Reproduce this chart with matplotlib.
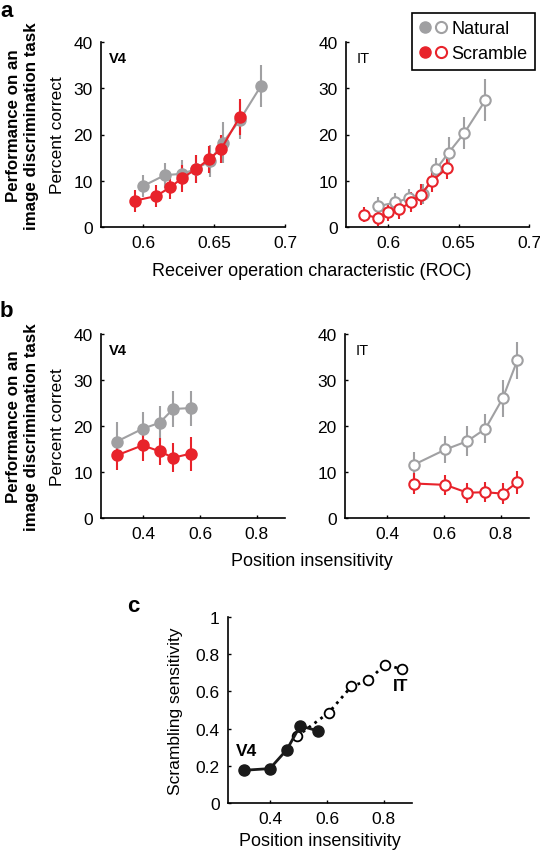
import numpy as np
import matplotlib
matplotlib.use("Agg")
import matplotlib.pyplot as plt
from matplotlib.lines import Line2D
from matplotlib.legend_handler import HandlerTuple
from matplotlib.ticker import FuncFormatter

plt.rcParams['font.family'] = ['Liberation Sans', 'DejaVu Sans']

# panel a, V4 (ROC vs percent correct)
a_v4_nat_x = [0.600, 0.615, 0.627, 0.637, 0.647, 0.656, 0.668, 0.683]
a_v4_nat_y = [8.9, 11.2, 11.5, 12.5, 14.3, 18.2, 23.1, 30.5]
a_v4_nat_e = [2.4, 2.7, 3.0, 3.0, 3.5, 4.4, 4.0, 4.5]
a_v4_scr_x = [0.594, 0.609, 0.619, 0.627, 0.637, 0.646, 0.655, 0.668]
a_v4_scr_y = [5.7, 6.7, 8.6, 10.5, 12.5, 14.6, 16.9, 23.8]
a_v4_scr_e = [2.4, 2.3, 2.5, 3.0, 3.0, 3.0, 3.0, 3.8]

# panel a, IT
a_it_nat_x = [0.593, 0.605, 0.615, 0.625, 0.634, 0.643, 0.654, 0.669]
a_it_nat_y = [4.5, 5.3, 6.3, 7.2, 12.5, 16.1, 20.3, 27.4]
a_it_nat_e = [2.0, 2.0, 2.0, 2.2, 2.5, 3.4, 3.5, 4.5]
a_it_scr_x = [0.583, 0.593, 0.600, 0.608, 0.616, 0.623, 0.631, 0.642]
a_it_scr_y = [2.7, 1.9, 3.2, 3.8, 5.4, 7.0, 9.9, 12.8]
a_it_scr_e = [1.6, 1.6, 1.8, 2.0, 2.2, 2.2, 2.4, 2.5]

# panel b, V4 (position insensitivity vs percent correct)
b_v4_x = [0.305, 0.397, 0.457, 0.505, 0.567]
b_v4_nat_y = [16.6, 19.4, 20.7, 23.7, 23.9]
b_v4_nat_e = [4.3, 3.7, 3.7, 4.0, 3.8]
b_v4_scr_y = [13.6, 15.8, 14.5, 13.1, 14.0]
b_v4_scr_e = [3.2, 3.3, 3.0, 3.2, 3.7]

# panel b, IT
b_it_x = [0.494, 0.605, 0.682, 0.746, 0.807, 0.859]
b_it_nat_y = [11.6, 14.9, 16.7, 19.4, 26.0, 34.3]
b_it_nat_e = [2.8, 3.0, 3.3, 3.2, 4.0, 4.0]
b_it_scr_y = [7.5, 7.2, 5.5, 5.6, 5.3, 7.8]
b_it_scr_e = [2.3, 2.2, 2.2, 2.2, 2.3, 2.5]

# panel c, scrambling sensitivity
c_v4_x = [0.307, 0.398, 0.458, 0.505, 0.569]
c_v4_y = [0.176, 0.185, 0.287, 0.415, 0.387]
c_it_x = [0.493, 0.606, 0.686, 0.746, 0.804, 0.863]
c_it_y = [0.358, 0.486, 0.627, 0.659, 0.744, 0.720]

GRAY = '#a0a0a2'
RED = '#e8232b'
W, H = 540, 853
FS = 12.5

fig = plt.figure(figsize=(W / 100, H / 100), dpi=100)


def px_axes(left, top, right, bottom):
    return fig.add_axes([left / W, 1 - bottom / H, (right - left) / W, (bottom - top) / H])


def style(ax):
    for s in ['top', 'right']:
        ax.spines[s].set_visible(False)
    for s in ['left', 'bottom']:
        ax.spines[s].set_linewidth(1.2)
    ax.tick_params(direction='in', length=2.5, width=1, labelsize=FS, pad=6)


def series(ax, x, y, e, color, filled):
    ax.errorbar(x, y, yerr=e, fmt='none', ecolor=color, elinewidth=1.5, capsize=0, zorder=2)
    ax.plot(x, y, '-o', color=color, lw=1.5, ms=7.5, mew=1.5,
            mfc=color if filled else 'white', mec=color, zorder=3)


def ftxt(x, y, s, **kw):
    fig.text(x / W, 1 - y / H, s, **kw)


# ---- panel a ----
ax1 = px_axes(101, 43, 285, 228)
series(ax1, a_v4_nat_x, a_v4_nat_y, a_v4_nat_e, GRAY, True)
series(ax1, a_v4_scr_x, a_v4_scr_y, a_v4_scr_e, RED, True)
ax2 = px_axes(346, 43, 529, 228)
series(ax2, a_it_nat_x, a_it_nat_y, a_it_nat_e, GRAY, False)
series(ax2, a_it_scr_x, a_it_scr_y, a_it_scr_e, RED, False)
for ax in (ax1, ax2):
    style(ax)
    ax.set_xlim(0.57, 0.70)
    ax.set_ylim(0, 40)
    ax.set_xticks([0.6, 0.65, 0.7])
    ax.set_xticklabels(['0.6', '0.65', '0.7'])
    ax.set_yticks([0, 10, 20, 30, 40])
ax1.set_ylabel('Percent correct', fontsize=FS, labelpad=6)
ax1.text(0.045, 0.95, 'V4', transform=ax1.transAxes, fontsize=10.5, fontweight='bold', va='top')
ax2.text(0.06, 0.95, 'IT', transform=ax2.transAxes, fontsize=10.5, va='top')
ftxt(312, 271, 'Receiver operation characteristic (ROC)', fontsize=FS + 0.5, ha='center', va='center')

# ---- panel b ----
ax3 = px_axes(101, 335, 285, 519)
series(ax3, b_v4_x, b_v4_nat_y, b_v4_nat_e, GRAY, True)
series(ax3, b_v4_x, b_v4_scr_y, b_v4_scr_e, RED, True)
ax4 = px_axes(345, 335, 529, 519)
series(ax4, b_it_x, b_it_nat_y, b_it_nat_e, GRAY, False)
series(ax4, b_it_x, b_it_scr_y, b_it_scr_e, RED, False)
for ax in (ax3, ax4):
    style(ax)
    ax.set_xlim(0.25, 0.9)
    ax.set_ylim(0, 40)
    ax.set_xticks([0.4, 0.6, 0.8])
    ax.set_yticks([0, 10, 20, 30, 40])
ax3.set_ylabel('Percent correct', fontsize=FS, labelpad=6)
ax3.text(0.045, 0.95, 'V4', transform=ax3.transAxes, fontsize=10.5, fontweight='bold', va='top')
ax4.text(0.06, 0.95, 'IT', transform=ax4.transAxes, fontsize=10.5, va='top')
ftxt(312, 561, 'Position insensitivity', fontsize=FS + 0.5, ha='center', va='center')

# ---- panel c ----
ax5 = px_axes(228, 618, 412, 804)
ax5.plot(c_it_x, c_it_y, ':o', color='black', lw=2, ms=7, mew=1.3, mfc='white', zorder=2)
ax5.plot(c_v4_x, c_v4_y, '-o', color='#1a1a1a', lw=2, ms=8, mew=1, mfc='#1a1a1a', zorder=3)
style(ax5)
ax5.set_xlim(0.25, 0.9)
ax5.set_ylim(0, 1)
ax5.set_xticks([0.4, 0.6, 0.8])
ax5.set_yticks([0, 0.2, 0.4, 0.6, 0.8, 1])
ax5.yaxis.set_major_formatter(FuncFormatter(lambda v, p: '%g' % v))
ax5.set_ylabel('Scrambling sensitivity', fontsize=FS, labelpad=9)
ax5.set_xlabel('Position insensitivity', fontsize=FS + 0.5, labelpad=4)
ax5.text(0.317, 0.28, 'V4', fontsize=12.5, fontweight='bold', ha='center', va='center')
ax5.text(0.86, 0.63, 'IT', fontsize=12.5, fontweight='bold', ha='center', va='center')

# ---- shared labels ----
for yc in (126, 427):
    ftxt(23, yc, 'Performance on an\nimage discrimination task', fontsize=12.2,
         fontweight='bold', rotation=90, ha='center', va='center', linespacing=1.25)
ftxt(0, 17, 'a', fontsize=16, fontweight='bold', va='baseline')
ftxt(0, 317, 'b', fontsize=16, fontweight='bold', va='baseline')
ftxt(127, 612, 'c', fontsize=16, fontweight='bold', va='baseline')

# ---- legend ----
h_nat = (Line2D([], [], ls='none', marker='o', ms=8, color=GRAY),
         Line2D([], [], ls='none', marker='o', ms=8, mfc='white', mec=GRAY, mew=1.5))
h_scr = (Line2D([], [], ls='none', marker='o', ms=8, color=RED),
         Line2D([], [], ls='none', marker='o', ms=8, mfc='white', mec=RED, mew=1.5))
leg = fig.legend([h_nat, h_scr], ['Natural', 'Scramble'],
                 handler_map={tuple: HandlerTuple(ndivide=None, pad=0.25)},
                 loc='upper right', bbox_to_anchor=(535 / W, 1 - 14 / H),
                 fontsize=13, fancybox=False, edgecolor='black', framealpha=1,
                 handlelength=1.5, handletextpad=0.3, borderpad=0.4, borderaxespad=0,
                 labelspacing=0.45)
leg.get_frame().set_linewidth(1.2)

fig.savefig('out.png', dpi=100)
